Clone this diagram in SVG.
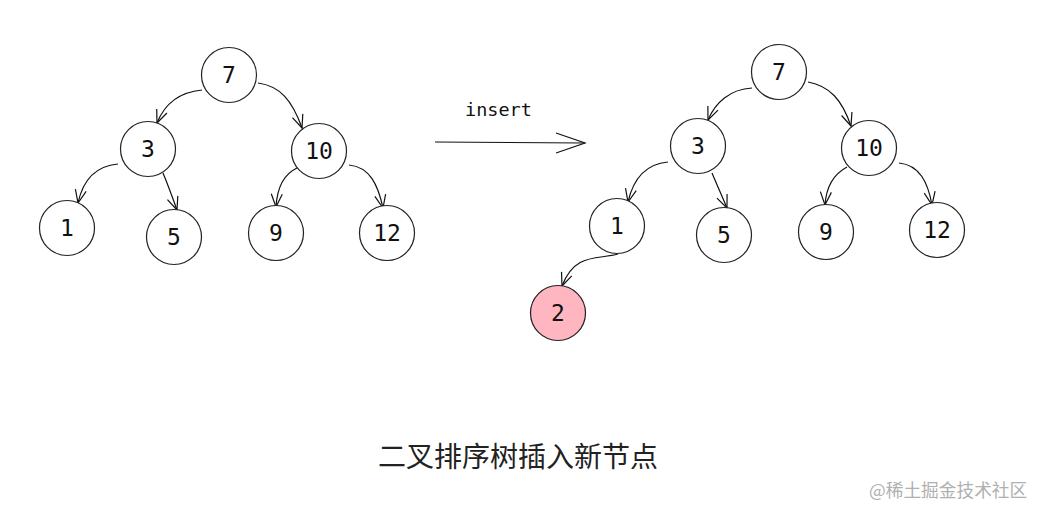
<svg xmlns="http://www.w3.org/2000/svg" width="1045" height="519" viewBox="0 0 1045 519">
<defs>
<style>
.node circle{fill:#fff;stroke:#222;stroke-width:1.2}
.node.new circle{fill:#FFB6C1}
.node text{font-family:"DejaVu Sans Mono","Liberation Mono",monospace;font-size:23px;fill:#111;text-anchor:middle;dominant-baseline:central}
.edge{fill:none;stroke:#111;stroke-width:1.2;marker-end:url(#arr)}
.lbl{font-family:"DejaVu Sans Mono","Liberation Mono",monospace;font-size:18.5px;fill:#111}
.title{font-family:"Noto Sans CJK SC","Noto Sans",sans-serif;font-size:28px;fill:#222;text-anchor:middle}
.wm{font-family:"Noto Sans CJK SC","Noto Sans",sans-serif;font-size:17.7px;fill:#b0b0b0}
</style>
<marker id="arr" markerUnits="userSpaceOnUse" markerWidth="16" markerHeight="14" viewBox="0 0 16 14" refX="14" refY="7" orient="auto">
<path d="M1,1.5 L14,7 L1,12.5" fill="none" stroke="#111" stroke-width="1.2"/>
</marker>
</defs>
<rect width="1045" height="519" fill="#fff"/>

<g id="connectors">
<path class="edge" d="M202,90 C180,92 165,103 157,123"/>
<path class="edge" d="M258,83 C280,86 292,100 302,128"/>
<path class="edge" d="M118,164 C95,166 83,180 78,203"/>
<path class="edge" d="M163,173 C168,185 172,196 177,210"/>
<path class="edge" d="M297,168 C282,175 277,190 276,207"/>
<path class="edge" d="M349,165 C370,167 378,185 383,208"/>

<path class="edge" d="M752,88 C730,89 715,103 708,120"/>
<path class="edge" d="M808,82 C830,86 842,100 851,126"/>
<path class="edge" d="M668,162 C645,164 633,180 628,202"/>
<path class="edge" d="M712,173 C717,185 722,196 727,208"/>
<path class="edge" d="M847,167 C832,175 826,190 825,205"/>
<path class="edge" d="M899,163 C920,165 928,183 932,205"/>
<path class="edge" d="M618,254 C598,260 575,252 562,286"/>

<path d="M435,142 L585,143" fill="none" stroke="#111" stroke-width="1.2"/>
<path d="M556,133 L585,143 L556,153" fill="none" stroke="#111" stroke-width="1.2"/>
<text class="lbl" x="465" y="116">insert</text>
</g>

<g id="L7" class="node"><circle cx="229" cy="75" r="27.5"/><text x="229" y="75">7</text></g>
<g id="L3" class="node"><circle cx="148" cy="149" r="27.5"/><text x="148" y="149">3</text></g>
<g id="L10" class="node"><circle cx="319" cy="151" r="27.5"/><text x="319" y="151">10</text></g>
<g id="L1" class="node"><circle cx="67" cy="228" r="27.5"/><text x="67" y="228">1</text></g>
<g id="L5" class="node"><circle cx="174" cy="237" r="27.5"/><text x="174" y="237">5</text></g>
<g id="L9" class="node"><circle cx="276" cy="233" r="27.5"/><text x="276" y="233">9</text></g>
<g id="L12" class="node"><circle cx="387" cy="233" r="27.5"/><text x="387" y="233">12</text></g>

<g id="R7" class="node"><circle cx="779" cy="72" r="27.5"/><text x="779" y="72">7</text></g>
<g id="R3" class="node"><circle cx="698" cy="146" r="27.5"/><text x="698" y="146">3</text></g>
<g id="R10" class="node"><circle cx="869" cy="148" r="27.5"/><text x="869" y="148">10</text></g>
<g id="R1" class="node"><circle cx="617" cy="226" r="27.5"/><text x="617" y="226">1</text></g>
<g id="R5" class="node"><circle cx="724" cy="235" r="27.5"/><text x="724" y="235">5</text></g>
<g id="R9" class="node"><circle cx="826" cy="232" r="27.5"/><text x="826" y="232">9</text></g>
<g id="R12" class="node"><circle cx="937" cy="230" r="27.5"/><text x="937" y="230">12</text></g>
<g id="R2" class="node new"><circle cx="558" cy="313" r="27.5"/><text x="558" y="313">2</text></g>

<text class="title" x="518" y="467">二叉排序树插入新节点</text>
<text class="wm" x="869" y="497">@稀土掘金技术社区</text>
</svg>
